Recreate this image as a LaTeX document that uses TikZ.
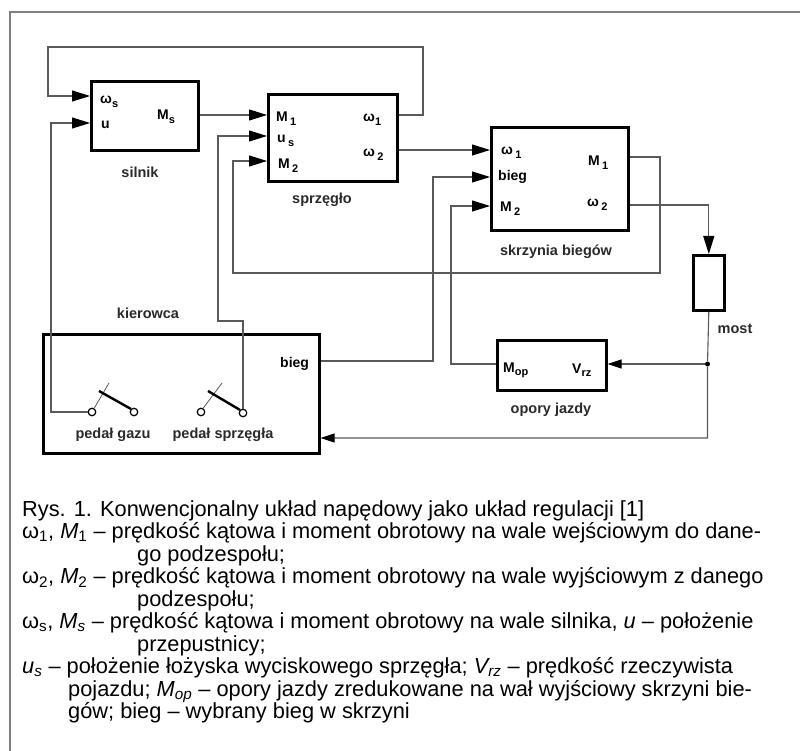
\documentclass[tikz,border=0pt]{standalone}
\usepackage{fontspec}
\setmainfont{Liberation Sans}
\usetikzlibrary{arrows.meta}
\definecolor{lgrey}{HTML}{5A5A5A}
\definecolor{fgrey}{HTML}{808080}
\definecolor{tgrey}{HTML}{2A2A2A}
\newcommand{\dsub}[1]{\raisebox{-0.28em}{\fontsize{11}{11}\selectfont #1}}
\tikzset{
  blk/.style={draw=black, line width=2.6pt, inner sep=0pt, anchor=north west},
  con/.style={draw=lgrey, line width=1.1pt},
  arr/.style={con, -{Triangle[length=18pt,width=11pt,color=black]}},
  arrs/.style={con, -{Triangle[length=14pt,width=9pt,color=black]}},
  lab/.style={font=\fontsize{14.5}{15}\selectfont\bfseries, text=tgrey, inner sep=0pt},
  port/.style={font=\fontsize{14}{15}\selectfont\bfseries, text=black, inner sep=0pt, anchor=base west},
  ring/.style={circle, draw=black, fill=white, line width=1.2pt, inner sep=0pt, minimum size=7.5pt},
  captxt/.style={font=\fontsize{21.8}{23}\selectfont, anchor=base west, inner sep=0pt},
}
\begin{document}
\begin{tikzpicture}[x=1pt,y=-1pt]
\useasboundingbox (0,0) rectangle (800,751);
\fill[white] (0,0) rectangle (800,751);
\draw[fgrey, line width=1.2pt] (10,780) -- (10,12) -- (830,12);

% blocks
\node[blk, minimum width=107pt, minimum height=69pt] (silnik) at (90,80) {};
\node[blk, minimum width=129pt, minimum height=87pt] (sprz) at (267,93) {};
\node[blk, minimum width=137pt, minimum height=103pt] (skrz) at (490,126) {};
\node[blk, minimum width=31pt, minimum height=55pt] (most) at (692,254) {};
\node[blk, minimum width=109pt, minimum height=50pt] (opory) at (496,339) {};
\node[blk, minimum width=276pt, minimum height=119pt] (kier) at (42,333) {};

% block titles
\node[lab] (tsil) at (140,172) {silnik};
\node[lab] (tspr) at (322,200) {sprzęgło};
\node[lab] (tskr) at (556,252) {skrzynia biegów};
\node[lab] (tmost) at (735,329) {most};
\node[lab] (topo) at (551,410) {opory jazdy};
\node[lab] (tkier) at (148,313) {kierowca};
\node[lab] (tgaz) at (113,435) {pedał gazu};
\node[lab] (tspd) at (223,435) {pedał sprzęgła};

% ports
\node[port] (p1) at (100,104) {ω\dsub{s}};
\node[port] (p2) at (101,129) {u};
\node[port] (p3) at (157,120) {M\dsub{s}};
\node[port] (p4) at (276,122) {M\,\dsub{1}};
\node[port] (p5) at (277,143) {u\,\dsub{s}};
\node[port] (p6) at (278,169) {M\,\dsub{2}};
\node[port] (p7) at (363,122) {ω\dsub{1}};
\node[port] (p8) at (363,157) {ω\,\dsub{2}};
\node[port] (p9) at (501,155) {ω\,\dsub{1}};
\node[port] (p10) at (498,181) {bieg};
\node[port] (p11) at (500,212) {M\,\dsub{2}};
\node[port] (p12) at (588,166) {M\,\dsub{1}};
\node[port] (p13) at (587,207) {ω\,\dsub{2}};
\node[port] (p14) at (503,372) {M\dsub{op}};
\node[port] (p15) at (572,373) {V\dsub{rz}};
\node[port] (p16) at (280,367) {bieg};

% pedals
\node[ring] (g1) at (92,412) {};
\node[ring] (g2) at (134,412) {};
\node[ring] (s1) at (201,412) {};
\node[ring] (s2) at (243,413) {};
\draw[con, line width=0.8pt] (g1.60) -- (109,383);
\draw[black, line width=2.4pt] (99,391) -- (g2.north west);
\draw[con, line width=0.8pt] (s1.60) -- (222,383);
\draw[black, line width=2.4pt] (208,391) -- (s2.north west);

% junction
\node[circle, fill=black, inner sep=0pt, minimum size=5pt] (dot) at (707.5,364) {};

% connectors
\draw[arr] (sprz.east |- 0,115) -- (423,115) -- (423,47) -- (48,47) -- (48,96) -- (silnik.west |- 0,96);
\draw[arr] (silnik.east |- 0,115) -- (sprz.west |- 0,115);
\draw[arr] (sprz.east |- 0,150) -- (skrz.west |- 0,150);
\draw[arr] (skrz.east |- 0,157) -- (660,157) -- (660,273) -- (233,273) -- (233,161) -- (sprz.west |- 0,161);
\draw[arr] (skrz.east |- 0,205) -- (most.north |- 0,205) -- (most.north);
\draw[arrs] (most.south) -- (dot) -- (dot |- 0,438) -- (kier.east |- 0,438);
\draw[arrs] (dot) -- (opory.east |- 0,364);
\draw[arr] (opory.west |- 0,364) -- (451,364) -- (451,206) -- (skrz.west |- 0,206);
\draw[arr] (kier.east |- 0,361) -- (433,361) -- (433,177) -- (skrz.west |- 0,177);
\draw[arr] (g1.west) -- (51,412) -- (51,123) -- (silnik.west |- 0,123);
\draw[arr] (s2.north) -- (243,321) -- (218,321) -- (218,136) -- (sprz.west |- 0,136);

% caption
\node[captxt] (c1) at (22,516) {Rys. 1. Konwencjonalny układ napędowy jako układ regulacji [1]};
\node[captxt] (c2) at (22,538.5) {ω\textsubscript{1}, \textit{M}\textsubscript{1} – prędkość kątowa i moment obrotowy na wale wejściowym do dane-};
\node[captxt] (c3) at (137,561) {go podzespołu;};
\node[captxt] (c4) at (22,583.5) {ω\textsubscript{2}, \textit{M}\textsubscript{2} – prędkość kątowa i moment obrotowy na wale wyjściowym z danego};
\node[captxt] (c5) at (137,606) {podzespołu;};
\node[captxt] (c6) at (22,628.5) {ω\textsubscript{s}, \textit{M\textsubscript{s}} – prędkość kątowa i moment obrotowy na wale silnika, \textit{u} – położenie};
\node[captxt] (c7) at (137,651) {przepustnicy;};
\node[captxt] (c8) at (22,673.5) {\textit{u\textsubscript{s}} – położenie łożyska wyciskowego sprzęgła; \textit{V\textsubscript{rz}} – prędkość rzeczywista};
\node[captxt] (c9) at (68,696) {pojazdu; \textit{M\textsubscript{op}} – opory jazdy zredukowane na wał wyjściowy skrzyni bie-};
\node[captxt] (c10) at (68,718.5) {gów; bieg – wybrany bieg w skrzyni};
\end{tikzpicture}
\end{document}
